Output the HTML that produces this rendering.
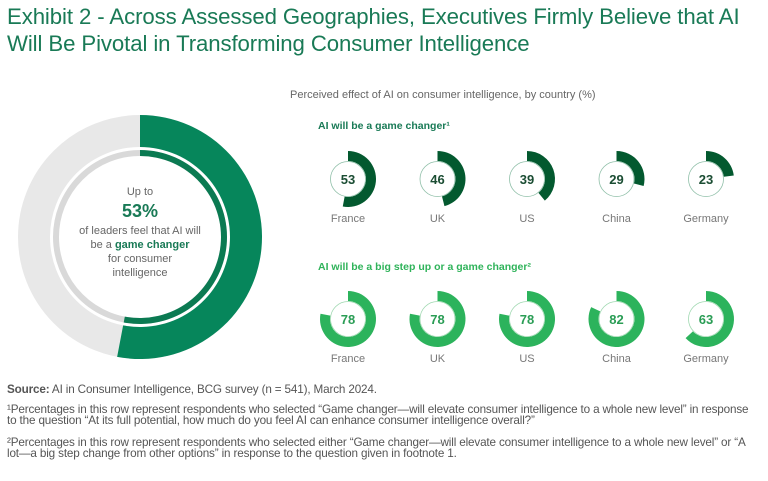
<!DOCTYPE html>
<html><head><meta charset="utf-8"><style>
body{margin:0;width:768px;height:481px;background:#fff;font-family:"Liberation Sans",sans-serif;overflow:hidden;position:relative}
.t{position:absolute;white-space:nowrap}
</style></head><body>
<div class="t" style="left:7px;top:3px;font-size:22.2px;line-height:27px;color:#197a56;letter-spacing:-0.1px">Exhibit 2 - Across Assessed Geographies, Executives Firmly Believe that AI<br>Will Be Pivotal in Transforming Consumer Intelligence</div>
<div class="t" style="left:290px;top:89px;font-size:11px;color:#666">Perceived effect of AI on consumer intelligence, by country (%)</div>
<div class="t" style="left:318px;top:120px;font-size:10.5px;color:#197a56;font-weight:bold">AI will be a game changer¹</div>
<div class="t" style="left:318px;top:261px;font-size:10.5px;color:#2fb35a;font-weight:bold">AI will be a big step up or a game changer²</div>
<svg id="svg" width="768" height="481" style="position:absolute;left:0;top:0"></svg>
<div class="t" style="left:72px;top:185px;width:136px;text-align:center;font-size:11px;line-height:14px;color:#666;white-space:normal">Up to<br><span style="font-size:18px;line-height:25px;color:#197a56;font-weight:bold">53%</span><br>of leaders feel that AI will be a <span style="color:#197a56;font-weight:bold">game changer</span><br>for consumer<br>intelligence</div>
<div class="t" style="left:7px;top:384px;font-size:11.7px;line-height:11px;color:#555;letter-spacing:-0.15px">
<div><b>Source:</b> AI in Consumer Intelligence, BCG survey (n = 541), March 2024.</div>
<div style="margin-top:9px">¹Percentages in this row represent respondents who selected “Game changer—will elevate consumer intelligence to a whole new level” in response<br>to the question “At its full potential, how much do you feel AI can enhance consumer intelligence overall?”</div>
<div style="margin-top:11px">²Percentages in this row represent respondents who selected either “Game changer—will elevate consumer intelligence to a whole new level” or “A<br>lot—a big step change from other options” in response to the question given in footnote 1.</div>
</div>
<script>
const countries=["France","UK","US","China","Germany"];
const gameChanger=[53,46,39,29,23];
const bigStep=[78,78,78,82,63];
const headline=[53];
const NS="http://www.w3.org/2000/svg";
const svg=document.getElementById('svg');
function arc(cx,cy,r0,r1,v){
  const a=Math.min(v,99.99)/100*2*Math.PI;
  const x=(r,t)=>cx+r*Math.sin(t),y=(r,t)=>cy-r*Math.cos(t);
  const lg=a>Math.PI?1:0;
  return `M${x(r1,0)} ${y(r1,0)}A${r1} ${r1} 0 ${lg} 1 ${x(r1,a)} ${y(r1,a)}L${x(r0,a)} ${y(r0,a)}A${r0} ${r0} 0 ${lg} 0 ${x(r0,0)} ${y(r0,0)}Z`;
}
function el(tag,attrs){const e=document.createElementNS(NS,tag);for(const k in attrs)e.setAttribute(k,attrs[k]);svg.appendChild(e);return e;}
let e=el('circle',{cx:140,cy:237,r:106,fill:'none',stroke:'#e8e8e8','stroke-width':32});


e=el('path',{d:arc(140,237,90,122,headline[0]),fill:'#06865b'});


e=el('circle',{cx:140,cy:237,r:84,fill:'none',stroke:'#d9d9d9','stroke-width':6});


e=el('path',{d:arc(140,237,81,87,headline[0]),fill:'#0b7a52'});


function row(vals,cy,color,txtColor,key){
  vals.forEach((v,i)=>{
    const cx=348+i*89.5;
    let p=el('path',{d:arc(cx,cy,18,28,v),fill:color});
    
    
    let c=el('circle',{cx:cx,cy:cy,r:17.5,fill:'#fff',stroke:key==='row1'?'#8fbfa8':'#9fd8b0','stroke-width':0.8});
    
    
    let t=el('text',{x:cx,y:cy+5,'text-anchor':'middle','font-size':13,'font-weight':'bold',fill:txtColor,'font-family':'Liberation Sans, sans-serif'});
    t.textContent=v;
    
    
    let l=el('text',{x:cx,y:cy+43,'text-anchor':'middle','font-size':11,fill:'#777','font-family':'Liberation Sans, sans-serif'});
    l.textContent=countries[i];
    
    
  });
}
row(gameChanger,179,'#03592f','#1b4d33','row1');
row(bigStep,319,'#2cb35c','#2a9d55','row2');
</script>
</body></html>
